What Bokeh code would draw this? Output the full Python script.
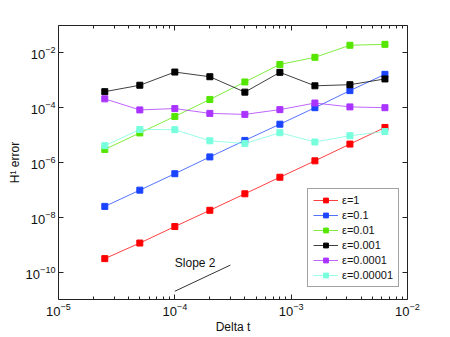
from bokeh.plotting import figure
from bokeh.models import FixedTicker, LogAxis, Legend, LegendItem, Range1d, CustomJSTickFormatter
from bokeh.core.properties import value
from bokeh.embed import file_html
from bokeh.resources import INLINE

# time steps
delta_t = [2.5e-5, 5e-5, 1e-4, 2e-4, 4e-4, 8e-4, 1.6e-3, 3.2e-3, 6.4e-3]

# H1 errors per epsilon
err_eps_1 = [3.1e-10, 1.15e-9, 4.6e-9, 1.8e-8, 7.2e-8, 2.9e-7, 1.15e-6, 4.7e-6, 1.9e-5]
err_eps_01 = [2.5e-8, 9.8e-8, 3.9e-7, 1.6e-6, 6.4e-6, 2.5e-5, 1.0e-4, 4.2e-4, 1.65e-3]
err_eps_001 = [3.0e-6, 1.2e-5, 4.8e-5, 2.0e-4, 8.7e-4, 3.8e-3, 6.9e-3, 1.9e-2, 2.05e-2]
err_eps_0001 = [3.85e-4, 6.6e-4, 2.0e-3, 1.35e-3, 3.7e-4, 1.95e-3, 6.3e-4, 6.9e-4, 1.12e-3]
err_eps_00001 = [2.1e-4, 8.3e-5, 9.3e-5, 6.2e-5, 5.7e-5, 8.5e-5, 1.48e-4, 1.07e-4, 1.0e-4]
err_eps_000001 = [4.1e-6, 1.6e-5, 1.58e-5, 6.2e-6, 4.9e-6, 1.22e-5, 5.6e-6, 9.5e-6, 1.35e-5]

series_labels = ["ε=1", "ε=0.1", "ε=0.01", "ε=0.001", "ε=0.0001", "ε=0.00001"]
series_values = [err_eps_1, err_eps_01, err_eps_001, err_eps_0001, err_eps_00001, err_eps_000001]
series_colors = ["#ff0000", "#1a44ff", "#55e600", "#000000", "#aa33ff", "#77ffdd"]

# reference slope line
slope_x = [1e-4, 3e-4]
slope_y = [2e-11, 1.8e-10]
slope_label = "Slope 2"

x_major = [1e-5, 1e-4, 1e-3, 1e-2]
y_major = [1e-10, 1e-8, 1e-6, 1e-4, 1e-2]

FONT = "Liberation Sans"

p = figure(width=450, height=337, x_axis_type="log", y_axis_type="log",
           output_backend="svg", toolbar_location=None,
           x_range=Range1d(1e-5, 1e-2), y_range=Range1d(1e-11, 1e-1),
           min_border_left=58, min_border_right=43, min_border_top=25, min_border_bottom=38)
p.grid.visible = False
p.outline_line_color = None
p.background_fill_color = "white"
p.border_fill_color = "white"

x_minor = [m * d for d in [1e-5, 1e-4, 1e-3] for m in range(2, 10)]

def style_axis(ax):
    ax.axis_line_color = "#222222"
    ax.major_tick_line_color = "#222222"
    ax.minor_tick_line_color = "#222222"
    ax.major_tick_in = 5
    ax.major_tick_out = 0
    ax.minor_tick_in = 3
    ax.minor_tick_out = 0
    ax.major_label_text_font = FONT
    ax.major_label_text_font_size = "13px"
    ax.major_label_text_color = "#111111"
    ax.major_label_standoff = 3

p.xaxis.ticker = FixedTicker(ticks=x_major, minor_ticks=x_minor)
p.yaxis.ticker = FixedTicker(ticks=y_major, minor_ticks=[])
for ax in p.xaxis + p.yaxis:
    style_axis(ax)
p.xaxis.axis_label = "Delta t"
p.yaxis.axis_label = "H¹ error"
for ax in p.xaxis + p.yaxis:
    ax.axis_label_text_font = FONT
    ax.axis_label_text_font_size = "12px"
    ax.axis_label_text_font_style = "normal"
    ax.axis_label_text_color = "#111111"
    ax.axis_label_standoff = 1

top_ax = LogAxis(ticker=FixedTicker(ticks=x_major, minor_ticks=x_minor),
                 formatter=CustomJSTickFormatter(code="return '';"))
style_axis(top_ax)
top_ax.major_label_standoff = 0
p.add_layout(top_ax, "above")
right_ax = LogAxis(ticker=FixedTicker(ticks=y_major, minor_ticks=[]),
                   formatter=CustomJSTickFormatter(code="return '';"))
style_axis(right_ax)
right_ax.major_label_standoff = 0
p.add_layout(right_ax, "right")

items = []
for lab, vals, col in zip(series_labels, series_values, series_colors):
    r1 = p.line(delta_t, vals, line_color=col, line_width=1, line_alpha=0.75)
    r2 = p.scatter(delta_t, vals, marker="square", size=6, fill_color=col, line_color=col)
    items.append(LegendItem(label=lab, renderers=[r1, r2]))

p.line(slope_x, slope_y, line_color="#333333", line_width=1)
p.text(x=[slope_x[0]], y=[2.2e-10], text=[slope_label], text_font=value(FONT),
       text_font_size="12px", text_baseline="middle", text_align="left", text_color="#111111")

legend = Legend(items=items, location=(249, 12))
legend.label_text_font = FONT
legend.label_text_font_size = "11px"
legend.label_text_color = "#111111"
legend.glyph_width = 25
legend.glyph_height = 12
legend.label_height = 12
legend.label_standoff = 4
legend.spacing = 3
legend.padding = 5
legend.margin = 0
legend.border_line_color = "#444444"
legend.border_line_width = 1
legend.background_fill_color = "white"
legend.background_fill_alpha = 1
p.add_layout(legend, "center")

open("out.html", "w").write(file_html(p, INLINE))
